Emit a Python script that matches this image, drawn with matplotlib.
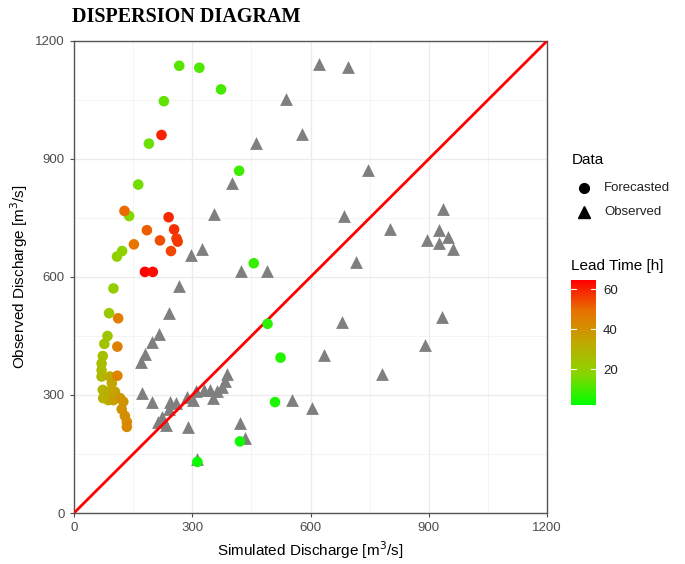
import matplotlib.pyplot as plt
import numpy as np
from matplotlib.colors import LinearSegmentedColormap, Normalize
from matplotlib.lines import Line2D

plt.rcParams['font.family'] = ['Liberation Sans', 'DejaVu Sans']

# Forecasted discharge points (simulated, observed, lead time in hours)
fc_sim = [313, 421, 510, 524, 491, 456, 419, 373, 318, 267, 228, 190, 163, 140,
          122, 109, 100, 89, 85, 77, 73, 70, 70, 70, 73, 74, 87, 88, 91, 96,
          104, 100, 117, 125, 121, 129, 134, 134, 110, 110, 112, 152, 128, 185,
          218, 246, 260, 263, 254, 240, 222, 180, 200]
fc_obs = [130, 182, 282, 395, 481, 635, 870, 1077, 1132, 1137, 1047, 939, 835, 755,
          666, 652, 571, 508, 450, 430, 399, 380, 363, 347, 313, 292, 287, 308, 347, 330,
          308, 287, 292, 283, 264, 247, 232, 219, 349, 423, 495, 683, 768, 719,
          693, 666, 698, 690, 721, 752, 961, 613, 613]
fc_lead = [3, 4, 5, 6, 7, 8, 9, 10, 11, 12, 13, 14, 15, 17,
           19, 20, 21, 22, 23, 24, 25, 26, 27, 28, 29, 30, 31, 32, 33, 34,
           35, 36, 38, 39, 40, 41, 42, 43, 44, 45, 46, 48, 50, 52,
           54, 55, 56, 57, 58, 59, 60, 64, 63]

# Observed discharge points
ob_sim = [622, 696, 537, 579, 462, 400, 355, 686, 325, 297, 424, 489, 745, 936,
          801, 926, 896, 950, 926, 961, 716, 267, 240, 934, 216, 198, 180, 170,
          679, 890, 635, 781, 388, 383, 375, 362, 352, 345, 330, 309, 303, 286,
          260, 244, 197, 172, 552, 605, 242, 222, 214, 233, 290, 421, 433, 313]
ob_obs = [1141, 1135, 1052, 964, 941, 840, 759, 755, 672, 655, 616, 616, 872, 772,
          722, 719, 694, 702, 687, 671, 639, 576, 508, 499, 455, 434, 405, 383,
          485, 427, 401, 353, 353, 336, 321, 311, 293, 313, 313, 311, 287, 296,
          279, 283, 283, 306, 287, 267, 264, 245, 232, 224, 219, 228, 190, 137]

lead_min, lead_max = 2, 64.5

# green-to-red ramp through olive and orange
cmap = LinearSegmentedColormap.from_list(
    'lead', ['#00FF00', '#8AD600', '#C0A900', '#E87300', '#FF0000'])
norm = Normalize(lead_min, lead_max)

W, H = 685, 564
fig = plt.figure(figsize=(W / 100, H / 100), dpi=100)
ax = fig.add_axes([74 / W, 1 - 513 / H, 473 / W, 472 / H])

ax.scatter(ob_sim, ob_obs, marker='^', s=85, color='#7F7F7F', linewidths=0, zorder=3)
ax.plot([0, 1200], [0, 1200], color='#FF0000', lw=2, zorder=4)
ax.scatter(fc_sim, fc_obs, marker='o', s=58, c=fc_lead, cmap=cmap, norm=norm,
           linewidths=0, zorder=5)

ax.set_xlim(0, 1200)
ax.set_ylim(0, 1200)
ticks = [0, 300, 600, 900, 1200]
ax.set_xticks(ticks)
ax.set_yticks(ticks)
ax.set_xticks([150, 450, 750, 1050], minor=True)
ax.set_yticks([150, 450, 750, 1050], minor=True)
ax.grid(which='major', color='#EBEBEB', lw=0.9)
ax.grid(which='minor', color='#F2F2F2', lw=0.6)
ax.set_axisbelow(True)
ax.tick_params(which='major', length=3, color='#4D4D4D', labelcolor='#4D4D4D',
               labelsize=9.5)
ax.tick_params(which='minor', length=0)
for sp in ax.spines.values():
    sp.set_color('#555555')
    sp.set_linewidth(1.0)

ax.set_xlabel('Simulated Discharge [m$^3$/s]', fontsize=11, labelpad=4)
ax.set_ylabel('Observed Discharge [m$^3$/s]', fontsize=11, labelpad=4)
fig.text(72 / W, 1 - 17 / H, 'DISPERSION DIAGRAM', fontsize=14.5, fontweight='bold',
         family='Liberation Serif', va='center', ha='left')

# shape legend, placed by hand
fig.text(572 / W, 1 - 160 / H, 'Data', fontsize=11, va='center', ha='left')
for label, mk, ms, ypx in [('Forecasted', 'o', 7, 188), ('Observed', '^', 8, 212)]:
    fig.add_artist(Line2D([584 / W], [1 - ypx / H], marker=mk, ls='', color='black',
                          markersize=ms, transform=fig.transFigure))
    fig.text(604 / W, 1 - ypx / H, label, fontsize=9.5, va='center', ha='left',
             color='#222222')

# lead time colour bar
fig.text(571 / W, 1 - 266 / H, 'Lead Time [h]', fontsize=11, va='center', ha='left')
cax = fig.add_axes([571 / W, 1 - 405 / H, 25 / W, 125 / H])
grad = np.linspace(lead_min, lead_max, 256).reshape(-1, 1)
cax.imshow(grad, aspect='auto', origin='lower', cmap=cmap, norm=norm,
           extent=[0, 1, lead_min, lead_max])
cax.set_xlim(0, 1)
cax.set_ylim(lead_min, lead_max)
cax.set_xticks([])
cax.set_yticks([20, 40, 60])
cax.yaxis.tick_right()
cax.tick_params(axis='y', length=0, labelsize=9.5, labelcolor='#222222', pad=5)
for v in [20, 40, 60]:
    cax.plot([0, 0.2], [v, v], color='white', lw=0.8)
    cax.plot([0.8, 1], [v, v], color='white', lw=0.8)
for sp in cax.spines.values():
    sp.set_visible(False)

fig.savefig('out.png', dpi=100)
